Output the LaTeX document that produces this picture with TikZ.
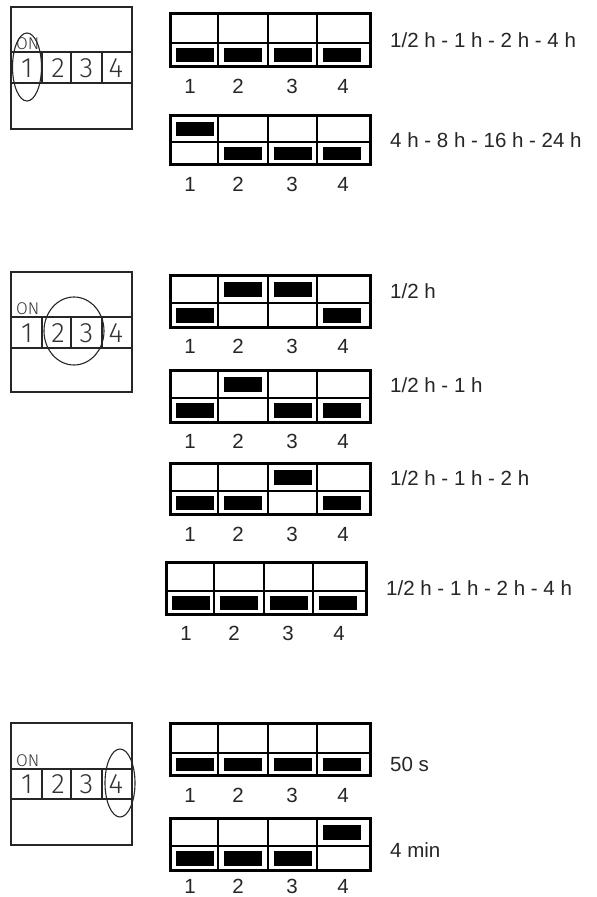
\documentclass[tikz,border=0pt]{standalone}
\usepackage{fontspec}
\setmainfont{Liberation Sans}
\IfFontExistsTF{Fira Sans Light}{\newfontfamily\cadfont{Fira Sans Light}}{\newfontfamily\cadfont{DejaVu Sans}}
\tikzset{
  outerline/.style={line width=3pt},
  innerline/.style={line width=2pt},
  boxline/.style={line width=1.1pt, draw=black!85},
  lab/.style={font=\fontsize{20.5}{24}\selectfont, text=black!85, inner sep=0pt, anchor=base},
  txt/.style={lab, anchor=base west},
  ontxt/.style={font=\cadfont\fontsize{17}{20}\selectfont, text=black!80, inner sep=0pt, anchor=base west},
  cad/.style={font=\cadfont\fontsize{28}{30}\selectfont, text=black!80, inner sep=0pt, anchor=base},
}
% #1 name, #2 dx, #3 top, #4 mid, #5 bottom, #6 states, #7 label baseline
\newcommand\dipblock[7]{%
  \begin{scope}[xshift=#2pt]
    \foreach \st [count=\i] in {#6} {
      \pgfmathsetmacro\cl{{170,218,268,317}[\i-1]}
      \ifnum\st=1
        \fill (\cl+6,#3+6.5) rectangle (\cl+44,#4-6.5);
      \else
        \fill (\cl+6,#4+4.5) rectangle (\cl+44,#5-4.5);
      \fi
    }
    \draw[innerline] (170,#4) -- (370,#4);
    \foreach \xx in {218,268,317} \draw[innerline] (\xx,#3) -- (\xx,#5);
    \draw[outerline] (170,#3) rectangle (370,#5);
    \foreach \lx [count=\i] in {190,238,292,343}
      \node[lab] (#1-\i) at (\lx,#7) {\i};
  \end{scope}}
% #1 name, #2 top, #3 line1, #4 line2, #5 bottom
\newcommand\onbox[5]{%
  \draw[boxline] (11,#2) rectangle (132,#5);
  \draw[boxline] (11,#3) -- (132,#3);
  \draw[boxline] (11,#4) -- (132,#4);
  \foreach \xx in {42,71,102} \draw[boxline] (\xx,#3) -- (\xx,#4);
  \node[ontxt] (#1-on) at (16,#3-2.5) {ON};
  \foreach \dx [count=\i] in {27,58,86.5,116}
    \node[cad] (#1-\i) at (\dx,#4-6) {\i};
}
\begin{document}
\begin{tikzpicture}[x=1pt,y=-1pt]
\useasboundingbox (0,0) rectangle (597,897);
\fill[white] (0,0) rectangle (597,897);

\onbox{ba}{7}{52}{83}{129}
\draw[boxline] (27,67) ellipse [x radius=14.5, y radius=34];
\onbox{bb}{272}{317}{348}{392}
\draw[boxline] (74,331) ellipse [x radius=30, y radius=34];
\onbox{bc}{723}{769}{799}{845}
\draw[boxline] (120,783) ellipse [x radius=15, y radius=34];

\dipblock{dA}{0}{13}{43}{66}{0,0,0,0}{93}
\dipblock{dB}{0}{115}{142}{164}{1,0,0,0}{191}
\dipblock{dC}{0}{275}{303}{327}{0,1,1,0}{353}
\dipblock{dD}{0}{370}{398}{422}{0,1,0,0}{448}
\dipblock{dE}{0}{463}{491}{514}{0,0,1,0}{541}
\dipblock{dF}{-4}{562}{591}{614}{0,0,0,0}{640}
\dipblock{dG}{0}{723}{753}{775}{0,0,0,0}{802}
\dipblock{dH}{0}{818}{846}{870}{0,0,0,1}{893}

\node[txt] (tA) at (390,47) {1/2 h - 1 h - 2 h - 4 h};
\node[txt] (tB) at (390,147) {4 h - 8 h - 16 h - 24 h};
\node[txt] (tC) at (390,298) {1/2 h};
\node[txt] (tD) at (390,392) {1/2 h - 1 h};
\node[txt] (tE) at (390,485) {1/2 h - 1 h - 2 h};
\node[txt] (tF) at (386,595) {1/2 h - 1 h - 2 h - 4 h};
\node[txt] (tG) at (390,771) {50 s};
\node[txt] (tH) at (390,857) {4 min};
\end{tikzpicture}
\end{document}
